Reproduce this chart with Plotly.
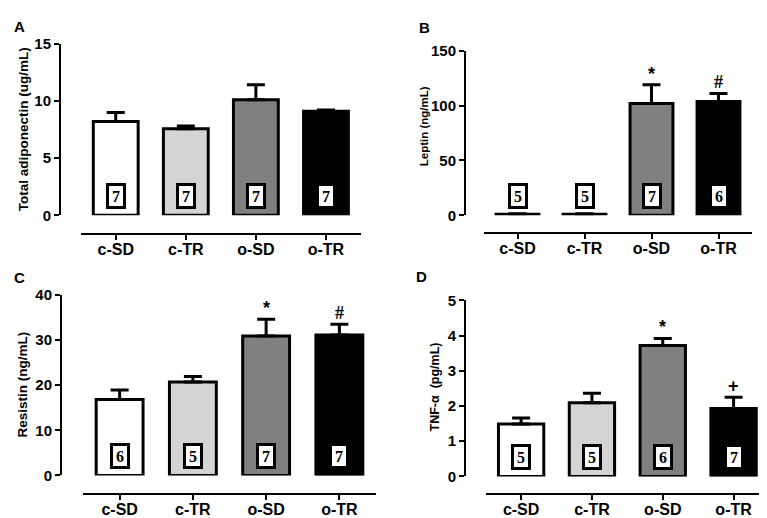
import plotly.graph_objects as go

categories = ["c-SD", "c-TR", "o-SD", "o-TR"]
bar_colors = ["#ffffff", "#d4d4d4", "#808080", "#000000"]

adiponectin = [8.2, 7.56, 10.1, 9.1]
adiponectin_sem = [0.78, 0.25, 1.32, 0.11]
n_adiponectin = [7, 7, 7, 7]
marks_adiponectin = ["", "", "", ""]

leptin = [1.0, 1.0, 102, 103.8]
leptin_sem = [0.4, 0.4, 17, 7.4]
n_leptin = [5, 5, 7, 6]
marks_leptin = ["", "", "*", "#"]

resistin = [16.8, 20.7, 30.9, 31.1]
resistin_sem = [2.1, 1.2, 3.7, 2.4]
n_resistin = [6, 5, 7, 7]
marks_resistin = ["", "", "*", "#"]

tnf = [1.49, 2.09, 3.72, 1.93]
tnf_sem = [0.17, 0.27, 0.2, 0.32]
n_tnf = [5, 5, 6, 7]
marks_tnf = ["", "", "*", "+"]

W, H = 767, 518


def px(x):
    return x / W


def py(y):
    return 1 - y / H


# per panel: where the axes sit (in pixels of the 767x518 page) and text sizes
panels = [
    dict(letter="A", title="Total adiponectin (ug/mL)", v=adiponectin, e=adiponectin_sem,
         n=n_adiponectin, m=marks_adiponectin, top=15, dtick=5,
         yx=52, y0=205, y1=27.7, xl=72.7, xr=353, xline=224.5, tfs=13.5, tx=15, ty=116,
         lx=11, ly=10),
    dict(letter="B", title="Leptin (ng/mL)", v=leptin, e=leptin_sem,
         n=n_leptin, m=marks_leptin, top=150, dtick=50,
         yx=457, y0=205, y1=35, xl=476, xr=744, xline=223, tfs=11.5, tx=416, ty=113,
         lx=416, ly=11),
    dict(letter="C", title="Resistin (ng/mL)", v=resistin, e=resistin_sem,
         n=n_resistin, m=marks_resistin, top=40, dtick=10,
         yx=53, y0=474, y1=287.3, xl=75, xr=368, xline=493.3, tfs=13.5, tx=15, ty=380,
         lx=11, ly=269),
    dict(letter="D", title="TNF-\u03b1  (pg/mL)", v=tnf, e=tnf_sem,
         n=n_tnf, m=marks_tnf, top=5, dtick=1,
         yx=457, y0=475, y1=293, xl=477.7, xr=761, xline=493.3, tfs=12.5, tx=427, ty=383,
         lx=414, ly=268),
]

fig = go.Figure()
annotations = []
bold = "Liberation Sans, Arial, sans-serif"

for i, p in enumerate(panels):
    k = "" if i == 0 else str(i + 1)
    xa, ya = "x" + k, "y" + k
    fig.add_trace(go.Bar(
        x=categories, y=p["v"], xaxis=xa, yaxis=ya, width=0.64,
        marker=dict(color=bar_colors, line=dict(color="black", width=3)),
        error_y=dict(type="data", symmetric=False, array=p["e"],
                     arrayminus=[0] * len(p["e"]), color="black", thickness=3, width=9),
        showlegend=False, hoverinfo="skip",
    ))
    fig.layout["xaxis" + k] = dict(
        domain=[px(p["xl"]), px(p["xr"])], anchor="free", position=py(p["xline"]),
        range=[-0.5, 3.5], type="category", showline=True, linecolor="black", linewidth=2,
        ticks="outside", ticklen=5, tickwidth=2, tickcolor="black", showgrid=False,
        zeroline=False, ticklabelstandoff=-4,
        tickfont=dict(family=bold, size=16, color="black", weight="bold"),
    )
    fig.layout["yaxis" + k] = dict(
        domain=[py(p["y0"]), py(p["y1"])], anchor="free", position=px(p["yx"]),
        range=[0, p["top"]], dtick=p["dtick"], showline=True, linecolor="black",
        linewidth=2, ticks="outside", ticklen=5, tickwidth=2, tickcolor="black",
        showgrid=False, zeroline=False,
        tickfont=dict(family=bold, size=15, color="black", weight="bold"),
    )
    annotations.append(dict(
        text=p["title"], xref="paper", yref="paper", x=px(p["tx"]), y=py(p["ty"]),
        textangle=-90, showarrow=False, xanchor="center", yanchor="middle",
        font=dict(family=bold, size=p["tfs"], color="black", weight="bold"),
    ))
    annotations.append(dict(
        text=p["letter"], xref="paper", yref="paper", x=px(p["lx"]), y=py(p["ly"]),
        showarrow=False, xanchor="center", yanchor="middle",
        font=dict(family=bold, size=15, color="black", weight="bold"),
    ))
    for cat, n in zip(categories, p["n"]):
        annotations.append(dict(
            text=str(n), xref=xa, yref=ya, x=cat, y=0, yanchor="bottom", yshift=6,
            showarrow=False, width=14, height=20, borderpad=0, borderwidth=3,
            bordercolor="black", bgcolor="white",
            font=dict(family="Liberation Serif, Times New Roman, serif", size=16,
                      color="black", weight="bold"),
        ))
    for cat, v, e, m in zip(categories, p["v"], p["e"], p["m"]):
        if m:
            serif = m == "#"
            annotations.append(dict(
                text=m, xref=xa, yref=ya, x=cat, y=v + e, yanchor="bottom", yshift=-1,
                showarrow=False,
                font=dict(family="Liberation Serif, serif" if serif else bold,
                          size=18, color="black", weight="bold"),
            ))

fig.update_layout(
    width=W, height=H, margin=dict(l=0, r=0, t=0, b=0),
    plot_bgcolor="white", paper_bgcolor="white",
    annotations=annotations, bargap=0.36,
)
fig.write_html("out.html")
